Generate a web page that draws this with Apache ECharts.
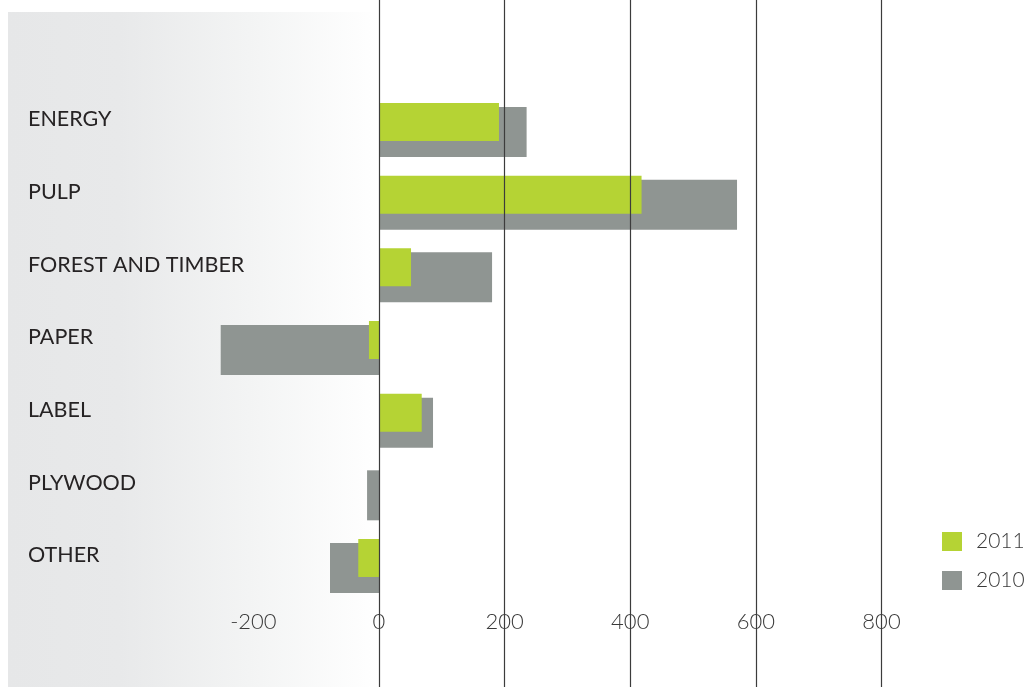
<!DOCTYPE html>
<html>
<head>
<meta charset="utf-8">
<script src="https://cdn.jsdelivr.net/npm/echarts@6/dist/echarts.min.js"></script>
<style>
  html, body { margin: 0; padding: 0; background: #ffffff; }
  #chart { width: 1032px; height: 687px; }
</style>
</head>
<body>
<div id="chart"></div>
<script>
// Result by business area, 2011 vs 2010
const categories = ['ENERGY', 'PULP', 'FOREST AND TIMBER', 'PAPER', 'LABEL', 'PLYWOOD', 'OTHER'];
const values2011 = [191, 418, 51, -16, 68, 0, -33];
const values2010 = [235, 570, 180, -252, 86, -19, -78];
const seriesNames = ['2011', '2010'];
const axisMin = -400;     // room for bars below -200; the -400 tick is not labelled
const axisMax = 800;
const axisStep = 200;
const firstLabel = -200;

const GREEN = '#b5d334';
const GREY = '#8f9592';
const FONT = 'Lato';

// plot geometry
const ZERO_X = 379;
const RIGHT = 150.5;
const PX_PER_UNIT = (1032 - RIGHT - ZERO_X) / axisMax;
const LEFT = ZERO_X + axisMin * PX_PER_UNIT;
const LABEL_X = 28;
const BAND_TOP = 95.7;
const BAND_BOTTOM = 82.7;
const GREEN_SHIFT = 10;
const LABEL_SHIFT = 12.5;

const chart = echarts.init(document.getElementById('chart'), null, { renderer: 'canvas' });

const hiddenValueAxis = (gridIndex) => ({
  gridIndex, type: 'value', min: axisMin, max: axisMax, interval: axisStep, show: false
});

chart.setOption({
  animation: false,
  backgroundColor: '#ffffff',
  graphic: [{
    type: 'rect',
    z: -10,
    shape: { x: 8, y: 12, width: 371, height: 675 },
    style: {
      fill: new echarts.graphic.LinearGradient(0, 0, 1, 0, [
        { offset: 0, color: '#e6e7e8' },
        { offset: 0.3, color: '#e8e9ea' },
        { offset: 0.65, color: '#f3f4f4' },
        { offset: 1, color: '#ffffff' }
      ])
    }
  }],
  legend: {
    data: seriesNames,
    orient: 'vertical',
    left: 942,
    top: 531,
    padding: 0,
    itemWidth: 20,
    itemHeight: 19,
    itemGap: 18,
    icon: 'rect',
    textStyle: { fontFamily: FONT, fontSize: 21, color: '#3a3a3a', fontWeight: 300, padding: [0, 0, 0, 9] }
  },
  grid: [
    // 2010 bars
    { left: LEFT, right: RIGHT, top: BAND_TOP, bottom: BAND_BOTTOM },
    // 2011 bars, sitting slightly higher within each band
    { left: LEFT, right: RIGHT, top: BAND_TOP - GREEN_SHIFT, bottom: BAND_BOTTOM + GREEN_SHIFT },
    // full-height gridlines from 0 to the maximum
    { left: ZERO_X, right: RIGHT, top: 0, bottom: 0 },
    // category names
    { left: LEFT, right: RIGHT, top: BAND_TOP - LABEL_SHIFT, bottom: BAND_BOTTOM + LABEL_SHIFT }
  ],
  xAxis: [
    {
      gridIndex: 0, type: 'value', min: axisMin, max: axisMax, interval: axisStep,
      axisLine: { show: false }, axisTick: { show: false }, splitLine: { show: false },
      axisLabel: {
        fontFamily: FONT, fontSize: 22, fontWeight: 300, color: '#3a3a3a', margin: 7,
        formatter: v => (v < firstLabel ? '' : String(v))
      }
    },
    hiddenValueAxis(1),
    {
      gridIndex: 2, type: 'value', min: 0, max: axisMax, interval: axisStep, z: 10,
      axisLine: { show: false }, axisTick: { show: false }, axisLabel: { show: false },
      splitLine: { show: true, lineStyle: { color: '#3c3c3c', width: 1.2 } }
    },
    hiddenValueAxis(3)
  ],
  yAxis: [
    {
      gridIndex: 0, type: 'category', data: categories, inverse: true,
      axisLine: { show: false }, axisTick: { show: false }, axisLabel: { show: false }
    },
    {
      gridIndex: 1, type: 'category', data: categories, inverse: true,
      axisLine: { show: false }, axisTick: { show: false }, axisLabel: { show: false }
    },
    {
      gridIndex: 2, type: 'value', show: false, min: 0, max: 1
    },
    {
      gridIndex: 3, type: 'category', data: categories, inverse: true,
      axisLine: { show: false, onZero: false }, axisTick: { show: false },
      axisLabel: {
        align: 'left', margin: LEFT - LABEL_X,
        fontFamily: FONT, fontSize: 21.5, color: '#262324'
      }
    }
  ],
  series: [
    {
      name: '2010', type: 'bar', xAxisIndex: 0, yAxisIndex: 0,
      data: values2010, barWidth: 50, itemStyle: { color: GREY }, z: 2
    },
    {
      name: '2011', type: 'bar', xAxisIndex: 1, yAxisIndex: 1,
      data: values2011, barWidth: 38, itemStyle: { color: GREEN }, z: 3
    }
  ]
});
</script>
</body>
</html>
